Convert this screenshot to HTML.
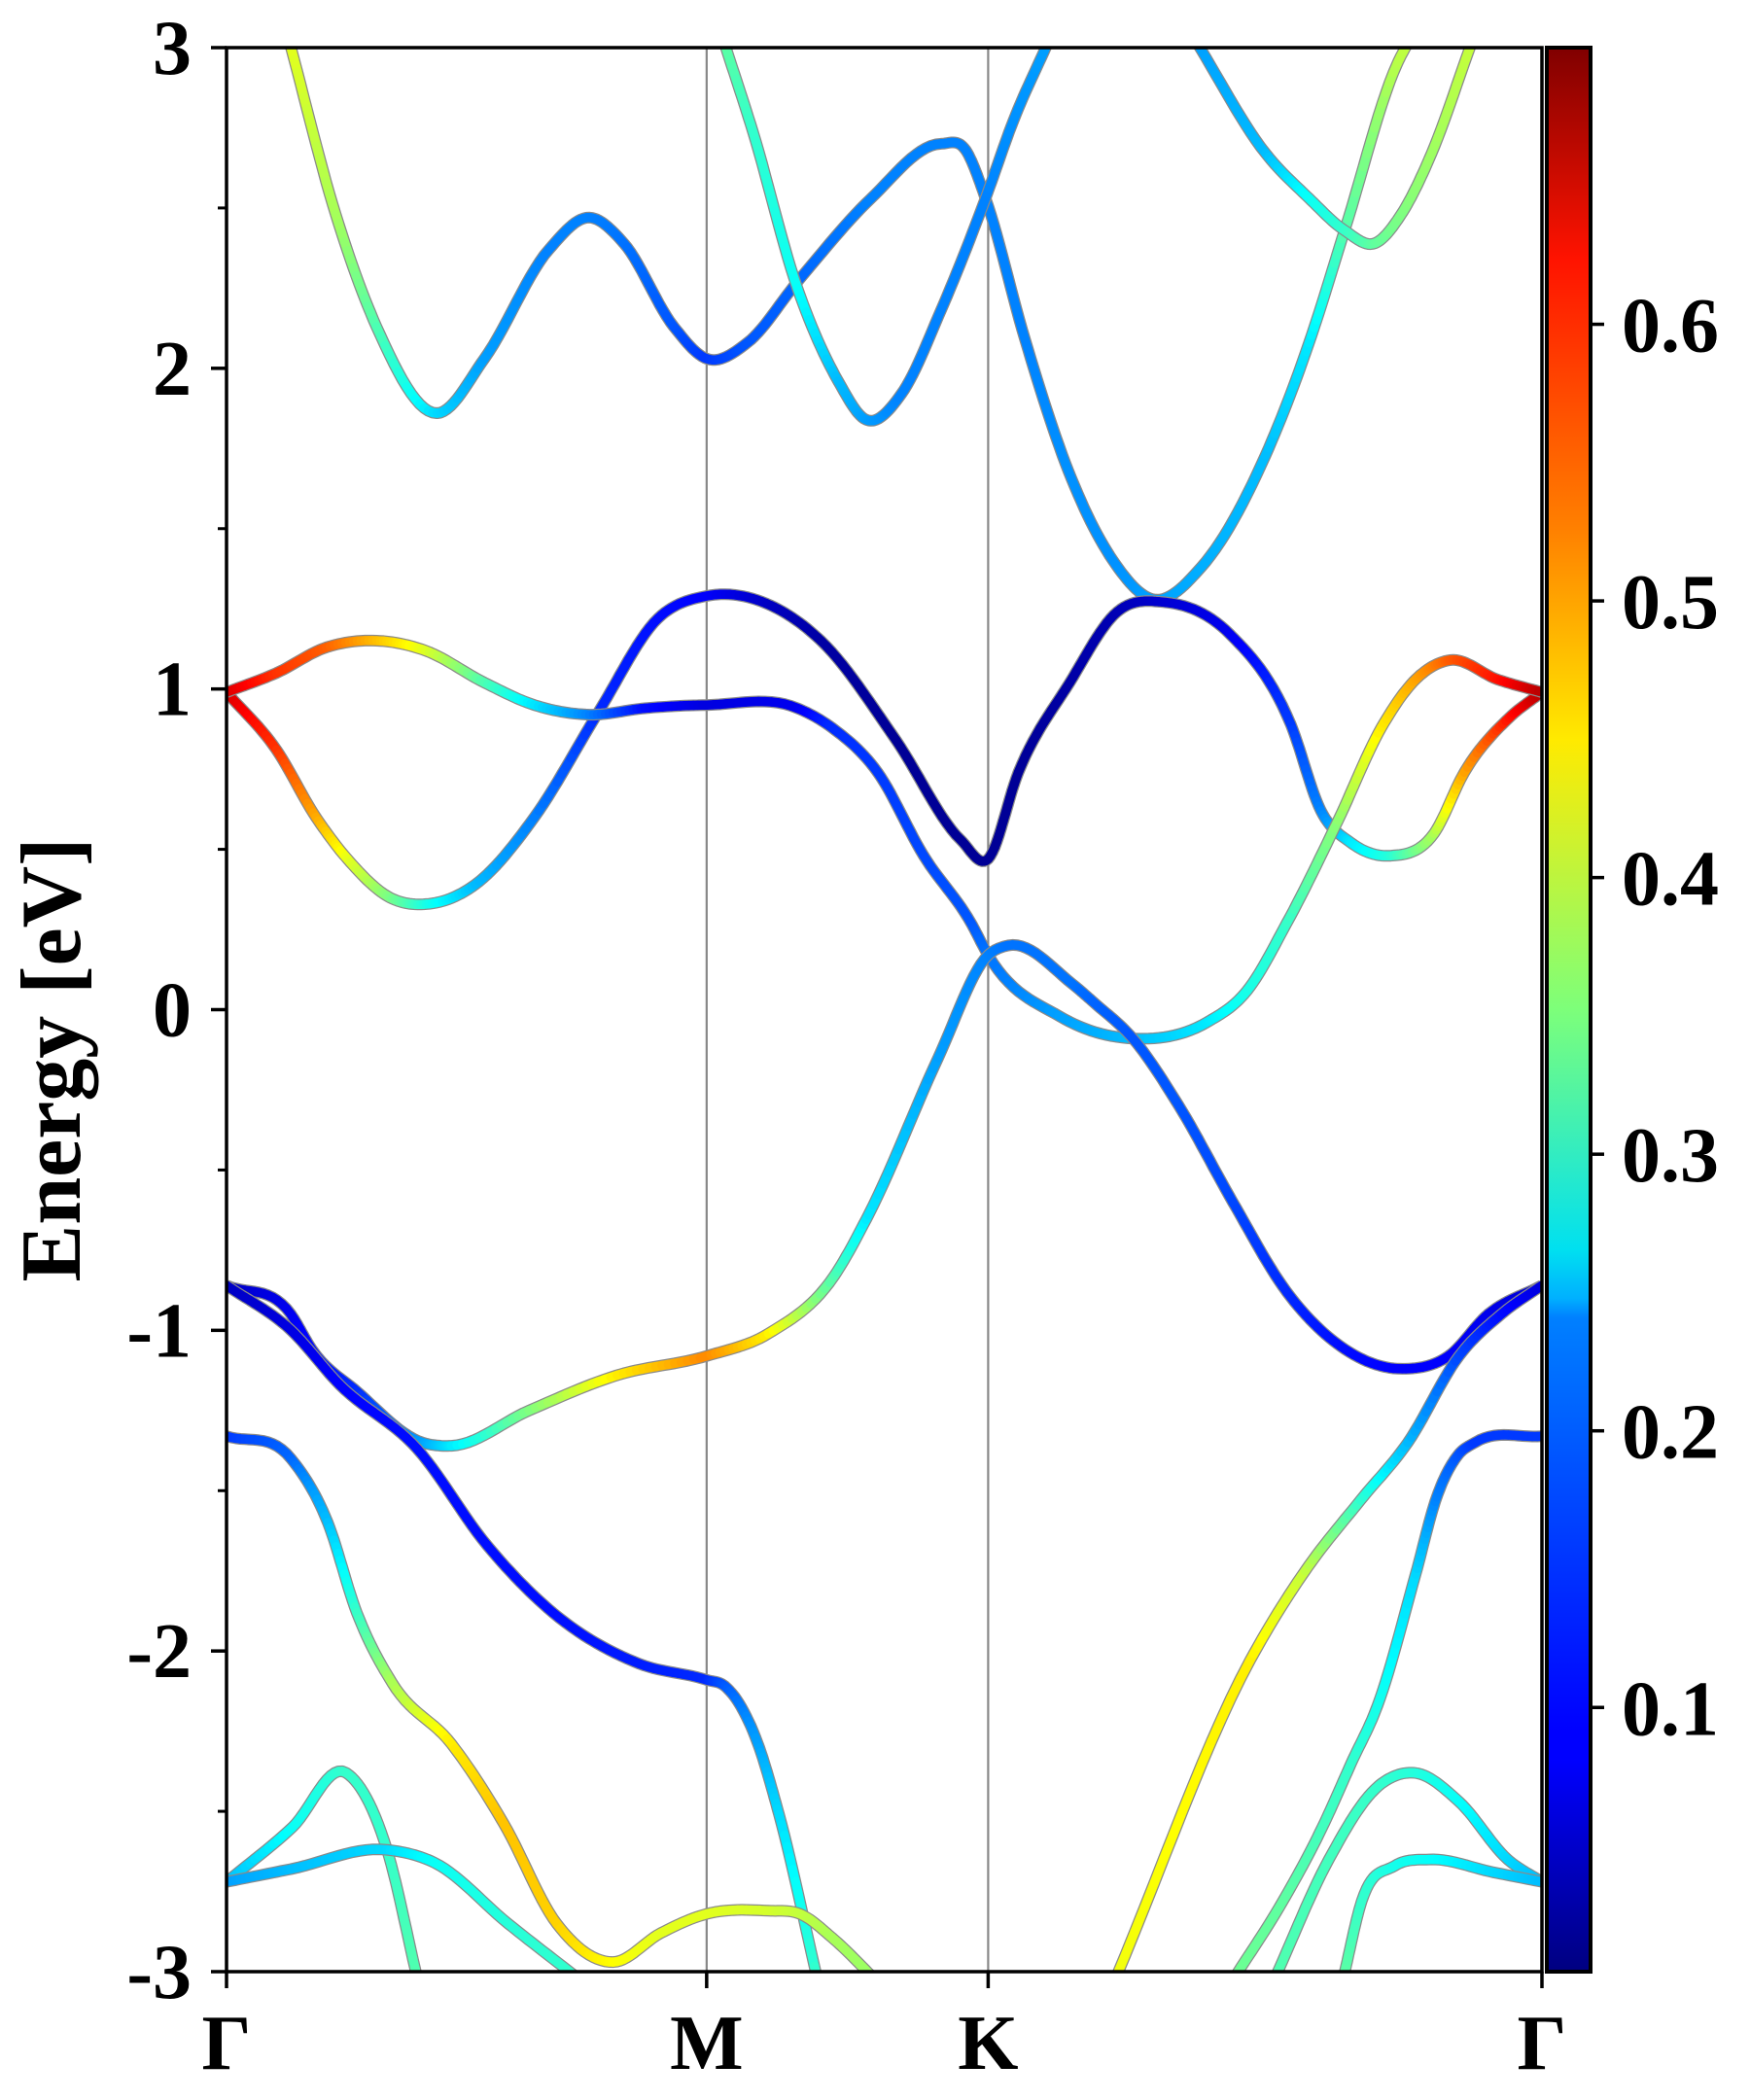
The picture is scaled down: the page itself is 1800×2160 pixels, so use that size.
<!DOCTYPE html>
<html><head><meta charset="utf-8">
<style>
html,body{margin:0;padding:0;background:#fff;}
svg{display:block;}
text{font-family:"Liberation Serif",serif;font-weight:bold;fill:#000;}
</style></head>
<body>
<svg id="chart" width="1800" height="2160" viewBox="0 0 1800 2160" xmlns="http://www.w3.org/2000/svg">
<defs>
<linearGradient id="jetGrad" x1="0" y1="1" x2="0" y2="0">
<stop offset="0" stop-color="#000080"/>
<stop offset="0.11" stop-color="#0000ff"/>
<stop offset="0.125" stop-color="#0000ff"/>
<stop offset="0.34" stop-color="#0080ff"/>
<stop offset="0.35" stop-color="#00b0ff"/>
<stop offset="0.375" stop-color="#00e0f0"/>
<stop offset="0.5" stop-color="#7dff7a"/>
<stop offset="0.64" stop-color="#ffea00"/>
<stop offset="0.75" stop-color="#ff8000"/>
<stop offset="0.89" stop-color="#ff1300"/>
<stop offset="1" stop-color="#800000"/>
</linearGradient>
</defs>
<g id="bands"></g>
<g id="axes"></g>
</svg>
<script>
// ---- data ----
const kLabels = ["Γ","M","K","Γ"];
const kTicks = [0, 0.365, 0.579, 1.0];
const eTicks = [-3,-2,-1,0,1,2,3];
const eTickLabels = ["-3","-2","-1","0","1","2","3"];
const cbTicks = [0.1,0.2,0.3,0.4,0.5,0.6];
const cbTickLabels = ["0.1","0.2","0.3","0.4","0.5","0.6"];
const wMin = 0.0045, wMax = 0.70;

const bandA_k = [0.049,0.083,0.114,0.160,0.196,0.245,0.276,0.302,0.340,0.365,0.396,0.434,0.490,0.543,0.562,0.577,0.607,0.640,0.674,0.704,0.741,0.790,0.823,0.850,0.890,0.903];
const bandA_e = [3.0,2.48,2.13,1.86,2.03,2.37,2.47,2.39,2.13,2.03,2.08,2.27,2.53,2.70,2.68,2.53,2.09,1.68,1.40,1.28,1.38,1.73,2.08,2.43,2.95,3.05];
const bandA_w = [0.42,0.38,0.32,0.24,0.20,0.18,0.18,0.17,0.15,0.13,0.15,0.16,0.18,0.18,0.18,0.18,0.18,0.19,0.19,0.20,0.21,0.22,0.25,0.32,0.39,0.40];

const bandB_k = [0.378,0.400,0.434,0.465,0.486,0.513,0.543,0.577,0.598,0.625];
const bandB_e = [3.02,2.74,2.25,1.96,1.84,1.92,2.18,2.53,2.77,3.02];
const bandB_w = [0.33,0.30,0.27,0.22,0.20,0.18,0.18,0.18,0.19,0.20];

const bandC_k = [0.737,0.790,0.823,0.850,0.873,0.893,0.914,0.947];
const bandC_e = [3.02,2.67,2.53,2.43,2.39,2.48,2.65,3.02];
const bandC_w = [0.20,0.22,0.27,0.30,0.33,0.35,0.37,0.40];

const bandD_k = [0.0,0.038,0.068,0.094,0.124,0.154,0.189,0.234,0.283,0.328,0.365,0.414,0.452,0.509,0.558,0.579,0.602,0.641,0.677,0.714,0.763,0.809,0.832,0.855,0.885,0.918,0.941,0.975,1.0];
const bandD_e = [0.99,0.81,0.60,0.46,0.35,0.33,0.39,0.60,0.93,1.22,1.29,1.26,1.15,0.84,0.53,0.47,0.74,1.02,1.24,1.27,1.17,0.89,0.62,0.52,0.48,0.55,0.74,0.91,0.99];
const bandD_w = [0.64,0.58,0.50,0.42,0.35,0.28,0.22,0.18,0.12,0.10,0.09,0.05,0.03,0.02,0.02,0.02,0.02,0.03,0.04,0.06,0.08,0.13,0.18,0.25,0.29,0.38,0.50,0.60,0.66];

const bandE_k = [0.0,0.038,0.076,0.117,0.151,0.196,0.234,0.276,0.318,0.365,0.434,0.460,0.495,0.530,0.566,0.579,0.633,0.689,0.745,0.776,0.806,0.845,0.878,0.904,0.930,0.966,1.0];
const bandE_e = [0.99,1.05,1.13,1.15,1.12,1.02,0.95,0.92,0.94,0.95,0.94,0.88,0.74,0.48,0.27,0.17,-0.02,-0.09,-0.04,0.06,0.27,0.59,0.88,1.03,1.09,1.03,0.99];
const bandE_w = [0.64,0.58,0.55,0.48,0.42,0.32,0.25,0.18,0.10,0.07,0.08,0.12,0.13,0.14,0.15,0.17,0.20,0.22,0.25,0.28,0.30,0.36,0.45,0.50,0.55,0.60,0.66];

const bandF_k = [0.0,0.049,0.065,0.099,0.149,0.171,0.230,0.297,0.365,0.412,0.462,0.488,0.541,0.579,0.594,0.643,0.660,0.689,0.724,0.765,0.806,0.847,0.894,0.929,0.959,1.0];
const bandF_e = [-0.86,-0.95,-1.06,-1.19,-1.35,-1.36,-1.25,-1.14,-1.08,-1.01,-0.83,-0.64,-0.15,0.17,0.20,0.08,0.02,-0.09,-0.30,-0.60,-0.88,-1.05,-1.12,-1.08,-0.95,-0.86];
const bandF_w = [0.05,0.08,0.10,0.12,0.20,0.25,0.35,0.45,0.52,0.45,0.32,0.25,0.20,0.18,0.17,0.17,0.16,0.15,0.15,0.14,0.12,0.10,0.09,0.09,0.08,0.06];

const bandG_k = [0.0,0.049,0.086,0.145,0.198,0.248,0.314,0.365,0.379,0.404,0.420,0.449];
const bandG_e = [-0.86,-1.0,-1.17,-1.37,-1.67,-1.88,-2.04,-2.09,-2.11,-2.29,-2.51,-3.02];
const bandG_w = [0.05,0.07,0.09,0.10,0.10,0.10,0.11,0.12,0.15,0.20,0.24,0.30];

const bandH_k = [0.0,0.049,0.077,0.099,0.126,0.171,0.211,0.251,0.294,0.330,0.365,0.412,0.436,0.462,0.492];
const bandH_e = [-1.33,-1.40,-1.60,-1.88,-2.10,-2.29,-2.54,-2.85,-2.97,-2.88,-2.82,-2.81,-2.82,-2.90,-3.02];
const bandH_w = [0.13,0.16,0.22,0.30,0.38,0.45,0.48,0.47,0.44,0.42,0.42,0.41,0.40,0.38,0.37];

const bandI_k = [0.0,0.050,0.091,0.122,0.145];
const bandI_e = [-2.72,-2.55,-2.38,-2.62,-3.02];
const bandI_w = [0.22,0.27,0.30,0.30,0.32];

const bandJ_k = [0.0,0.049,0.122,0.158,0.214,0.267];
const bandJ_e = [-2.72,-2.68,-2.62,-2.66,-2.85,-3.02];
const bandJ_w = [0.20,0.22,0.24,0.27,0.29,0.30];

const bandK_k = [0.676,0.778,0.820,0.862,0.898,0.937,0.969,1.0];
const bandK_e = [-3.02,-2.03,-1.75,-1.53,-1.35,-1.08,-0.95,-0.86];
const bandK_w = [0.43,0.45,0.40,0.30,0.22,0.14,0.10,0.07];

const bandL_k = [0.766,0.803,0.833,0.855,0.875,0.904,0.920,0.936,0.949,1.0];
const bandL_e = [-3.02,-2.78,-2.55,-2.35,-2.17,-1.76,-1.52,-1.39,-1.35,-1.33];
const bandL_w = [0.34,0.33,0.31,0.30,0.28,0.24,0.18,0.15,0.13,0.13];

const bandM_k = [0.797,0.838,0.876,0.903,0.937,0.974,1.0];
const bandM_e = [-3.02,-2.65,-2.42,-2.38,-2.47,-2.65,-2.72];
const bandM_w = [0.32,0.31,0.30,0.29,0.27,0.24,0.22];

const bandN_k = [0.849,0.863,0.888,0.914,0.963,1.0];
const bandN_e = [-3.02,-2.78,-2.67,-2.65,-2.69,-2.72];
const bandN_w = [0.33,0.30,0.28,0.27,0.24,0.22];

const bands = [
 [bandA_k,bandA_e,bandA_w],[bandB_k,bandB_e,bandB_w],[bandC_k,bandC_e,bandC_w],
 [bandD_k,bandD_e,bandD_w],[bandE_k,bandE_e,bandE_w],[bandF_k,bandF_e,bandF_w],
 [bandG_k,bandG_e,bandG_w],[bandH_k,bandH_e,bandH_w],[bandI_k,bandI_e,bandI_w],
 [bandJ_k,bandJ_e,bandJ_w],[bandK_k,bandK_e,bandK_w],[bandL_k,bandL_e,bandL_w],
 [bandM_k,bandM_e,bandM_w],[bandN_k,bandN_e,bandN_w]
];

// ---- layout ----
const X0=233, X1=1586, Y0=49, Y1=2028;
const CBX0=1591, CBX1=1636;
const NS="http://www.w3.org/2000/svg";
function xs(k){return X0+k*(X1-X0);}
function ys(e){return Y1-(e+3)/6*(Y1-Y0);}
function cbY(v){return Y1-(v-wMin)/(wMax-wMin)*(Y1-Y0);}
function jet(v){
  let t=Math.max(0,Math.min(1,(v-wMin)/(wMax-wMin)));
  function c(x){return Math.max(0,Math.min(1,x));}
  const r=c(1.5-Math.abs(4*t-3)), g=c(1.5-Math.abs(4*t-2)), b=c(1.5-Math.abs(4*t-1));
  return "rgb("+Math.round(r*255)+","+Math.round(g*255)+","+Math.round(b*255)+")";
}
function mk(tag,attrs,parent){const el=document.createElementNS(NS,tag);for(const a in attrs)el.setAttribute(a,attrs[a]);parent.appendChild(el);return el;}

const svg=document.getElementById('chart');
const gB=document.getElementById('bands');
const gA=document.getElementById('axes');

const defs=svg.querySelector('defs');
const cp=mk('clipPath',{id:'plotClip'},defs);
mk('rect',{x:X0,y:Y0,width:X1-X0,height:Y1-Y0},cp);
gB.setAttribute('clip-path','url(#plotClip)');

for(let i=1;i<kTicks.length-1;i++){
  const ln=mk('line',{x1:xs(kTicks[i]),x2:xs(kTicks[i]),y1:Y0,y2:Y1,stroke:'#888',"stroke-width":2.2},gB);
  
  
}

// Hermite spline in k (slopes from neighbouring secants, flat at kinks of sign)
function sample(K,E,W){
  const n=K.length, m=new Array(n);
  const d=[];
  for(let i=0;i<n-1;i++) d.push((E[i+1]-E[i])/(K[i+1]-K[i]));
  m[0]=d[0]; m[n-1]=d[n-2];
  for(let i=1;i<n-1;i++){
    const h0=K[i]-K[i-1], h1=K[i+1]-K[i];
    m[i]=(d[i-1]*h1+d[i]*h0)/(h0+h1);
  }
  const pts=[];
  for(let i=0;i<n-1;i++){
    const h=K[i+1]-K[i];
    for(let s=0;s<14;s++){
      const t=s/14, t2=t*t, t3=t2*t;
      const e=(2*t3-3*t2+1)*E[i]+(t3-2*t2+t)*h*m[i]+(-2*t3+3*t2)*E[i+1]+(t3-t2)*h*m[i+1];
      pts.push([K[i]+h*t,e,W[i]+(W[i+1]-W[i])*t]);
    }
  }
  pts.push([K[n-1],E[n-1],W[n-1]]);
  return pts;
}
bands.forEach((b,bi)=>{
  const pts=sample(b[0],b[1],b[2]);
  const g=mk('g',{},gB);
  
  
  const d=pts.map((p,i)=>(i?'L':'M')+xs(p[0]).toFixed(1)+' '+ys(p[1]).toFixed(1)).join(' ');
  mk('path',{d:d,fill:'none',stroke:'#8a8a8a',"stroke-width":12,"stroke-linejoin":'round'},g);
  for(let i=0;i<pts.length-1;i++){
    const p=pts[i],q=pts[i+1];
    mk('line',{x1:xs(p[0]).toFixed(1),y1:ys(p[1]).toFixed(1),x2:xs(q[0]).toFixed(1),y2:ys(q[1]).toFixed(1),stroke:jet((p[2]+q[2])/2),"stroke-width":9.5,"stroke-linecap":'round'},g);
  }
});

const frame=mk('rect',{x:X0,y:Y0,width:X1-X0,height:Y1-Y0,fill:'none',stroke:'#000',"stroke-width":3.5},gA);



eTicks.forEach((e,i)=>{
  mk('line',{x1:X0-16,x2:X0,y1:ys(e),y2:ys(e),stroke:'#000',"stroke-width":3.5},gA);
  const t=mk('text',{x:X0-36,y:ys(e)+27,"text-anchor":'end',"font-size":80},gA);
  t.textContent=eTickLabels[i];
  
  
  if(i<eTicks.length-1){
    mk('line',{x1:X0-9,x2:X0,y1:ys(e+0.5),y2:ys(e+0.5),stroke:'#000',"stroke-width":3},gA);
  }
});
kTicks.forEach((k,i)=>{
  mk('line',{x1:xs(k),x2:xs(k),y1:Y1,y2:Y1+17,stroke:'#000',"stroke-width":3.5},gA);
  const t=mk('text',{x:xs(k),y:Y1+100,"text-anchor":'middle',"font-size":80},gA);
  t.textContent=kLabels[i];
  
  
});
const yl=mk('text',{x:0,y:0,"text-anchor":'middle',"font-size":88,transform:'translate(82,1090) rotate(-90)'},gA);
yl.textContent='Energy [eV]';



const cb=mk('rect',{x:CBX0,y:Y0,width:CBX1-CBX0,height:Y1-Y0,fill:'url(#jetGrad)',stroke:'#000',"stroke-width":4},gA);


cbTicks.forEach((v,i)=>{
  mk('line',{x1:CBX1,x2:CBX1+14,y1:cbY(v),y2:cbY(v),stroke:'#000',"stroke-width":3.5},gA);
  const t=mk('text',{x:CBX1+32,y:cbY(v)+28,"font-size":80},gA);
  t.textContent=cbTickLabels[i];
  
  
});
</script>
</body></html>
